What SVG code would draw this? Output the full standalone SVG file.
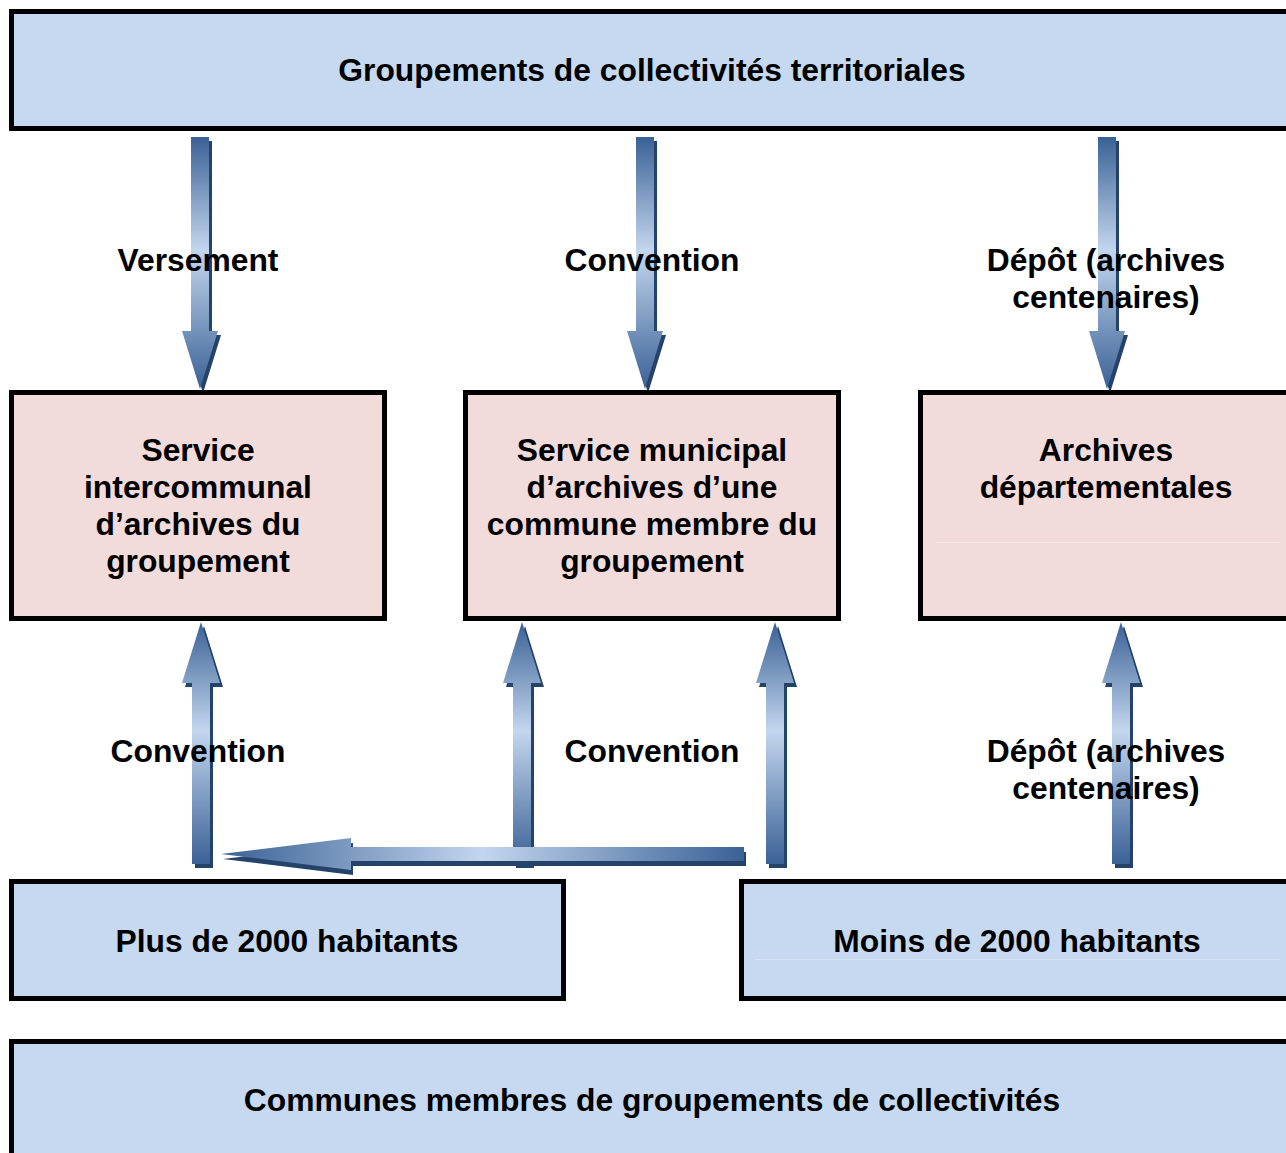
<svg xmlns="http://www.w3.org/2000/svg" width="1286" height="1153" viewBox="0 0 1286 1153">
<style>
.blue{fill:#C6D9F0;stroke:#000;stroke-width:5}
.pink{fill:#F2DCDB;stroke:#000;stroke-width:5}
text{font-family:"Liberation Sans",Arial,sans-serif;font-weight:bold;font-size:31.8px;fill:#000;text-anchor:middle}
.sh{fill:#25426B}
.av{fill:url(#gv)}
.ah{fill:url(#gh)}
</style>
<defs>
<linearGradient id="gv" x1="0" y1="0" x2="0" y2="1">
<stop offset="0" stop-color="#3A6195"/>
<stop offset="0.45" stop-color="#C3D6EE"/>
<stop offset="1" stop-color="#3A6195"/>
</linearGradient>
<linearGradient id="gh" x1="0" y1="0" x2="1" y2="0">
<stop offset="0" stop-color="#3A6195"/>
<stop offset="0.5" stop-color="#C3D6EE"/>
<stop offset="1" stop-color="#3A6195"/>
</linearGradient>
</defs>
<g id="connectors">
<g id="a-versement">
<path class="sh" transform="translate(3,4)" d="M191,137H209V331H218L200,389L182,331H191Z"/>
<path class="av" d="M191,137H209V331H218L200,389L182,331H191Z"/>
</g>
<g id="a-convention-top">
<path class="sh" transform="translate(3,4)" d="M636,137H654V331H663L645,389L627,331H636Z"/>
<path class="av" d="M636,137H654V331H663L645,389L627,331H636Z"/>
</g>
<g id="a-depot-top">
<path class="sh" transform="translate(3,4)" d="M1098,137H1116V331H1125L1107,389L1089,331H1098Z"/>
<path class="av" d="M1098,137H1116V331H1125L1107,389L1089,331H1098Z"/>
</g>
<g id="a-up1">
<path class="sh" transform="translate(3,4)" d="M192,864H210V683H220L201,622L182,683H192Z"/>
<path class="av" d="M192,864H210V683H220L201,622L182,683H192Z"/>
</g>
<g id="a-up2">
<path class="sh" transform="translate(3,4)" d="M513,864H531V683H541L522,622L503,683H513Z"/>
<path class="av" d="M513,864H531V683H541L522,622L503,683H513Z"/>
</g>
<g id="a-up3">
<path class="sh" transform="translate(3,4)" d="M766,864H784V683H794L775,622L756,683H766Z"/>
<path class="av" d="M766,864H784V683H794L775,622L756,683H766Z"/>
</g>
<g id="a-up4">
<path class="sh" transform="translate(3,4)" d="M1112,864H1130V683H1140L1121,622L1102,683H1112Z"/>
<path class="av" d="M1112,864H1130V683H1140L1121,622L1102,683H1112Z"/>
</g>
<g id="a-horizontal">
<path class="sh" transform="translate(2,5)" d="M744,847V861H351V870L221,854L351,838V847Z"/>
<path class="ah" d="M744,847V861H351V870L221,854L351,838V847Z"/>
</g>
</g>
<g id="labels">
<text x="198" y="271">Versement</text>
<text x="652" y="271">Convention</text>
<text x="1106" y="271">Dépôt (archives</text>
<text x="1106" y="308">centenaires)</text>
<text x="198" y="762">Convention</text>
<text x="652" y="762">Convention</text>
<text x="1106" y="762">Dépôt (archives</text>
<text x="1106" y="799">centenaires)</text>
</g>
<g id="n-groupements">
<rect class="blue" x="11.5" y="11.5" width="1290" height="117"/>
<text x="652" y="81">Groupements de collectivités territoriales</text>
</g>
<g id="n-intercommunal">
<rect class="pink" x="11.5" y="392.5" width="373" height="226"/>
<text x="198" y="461">Service</text>
<text x="198" y="498">intercommunal</text>
<text x="198" y="535">d’archives du</text>
<text x="198" y="572">groupement</text>
</g>
<g id="n-municipal">
<rect class="pink" x="465.5" y="392.5" width="373" height="226"/>
<text x="652" y="461">Service municipal</text>
<text x="652" y="498">d’archives d’une</text>
<text x="652" y="535">commune membre du</text>
<text x="652" y="572">groupement</text>
</g>
<g id="n-departementales">
<rect class="pink" x="920.5" y="392.5" width="380" height="226"/>
<line x1="935" y1="542.5" x2="1280" y2="542.5" stroke="#F7E8E8" stroke-width="1"/>
<text x="1106" y="461">Archives</text>
<text x="1106" y="498">départementales</text>
</g>
<g id="n-plus">
<rect class="blue" x="11.5" y="881.5" width="552" height="117"/>
<text x="287" y="952">Plus de 2000 habitants</text>
</g>
<g id="n-moins">
<rect class="blue" x="741.5" y="881.5" width="560" height="117"/>
<line x1="755" y1="959.5" x2="1280" y2="959.5" stroke="#D4E3F5" stroke-width="1"/>
<text x="1017" y="952">Moins de 2000 habitants</text>
</g>
<g id="n-communes">
<rect class="blue" x="11.5" y="1041.5" width="1290" height="130"/>
<text x="652" y="1111">Communes membres de groupements de collectivités</text>
</g>
</svg>
